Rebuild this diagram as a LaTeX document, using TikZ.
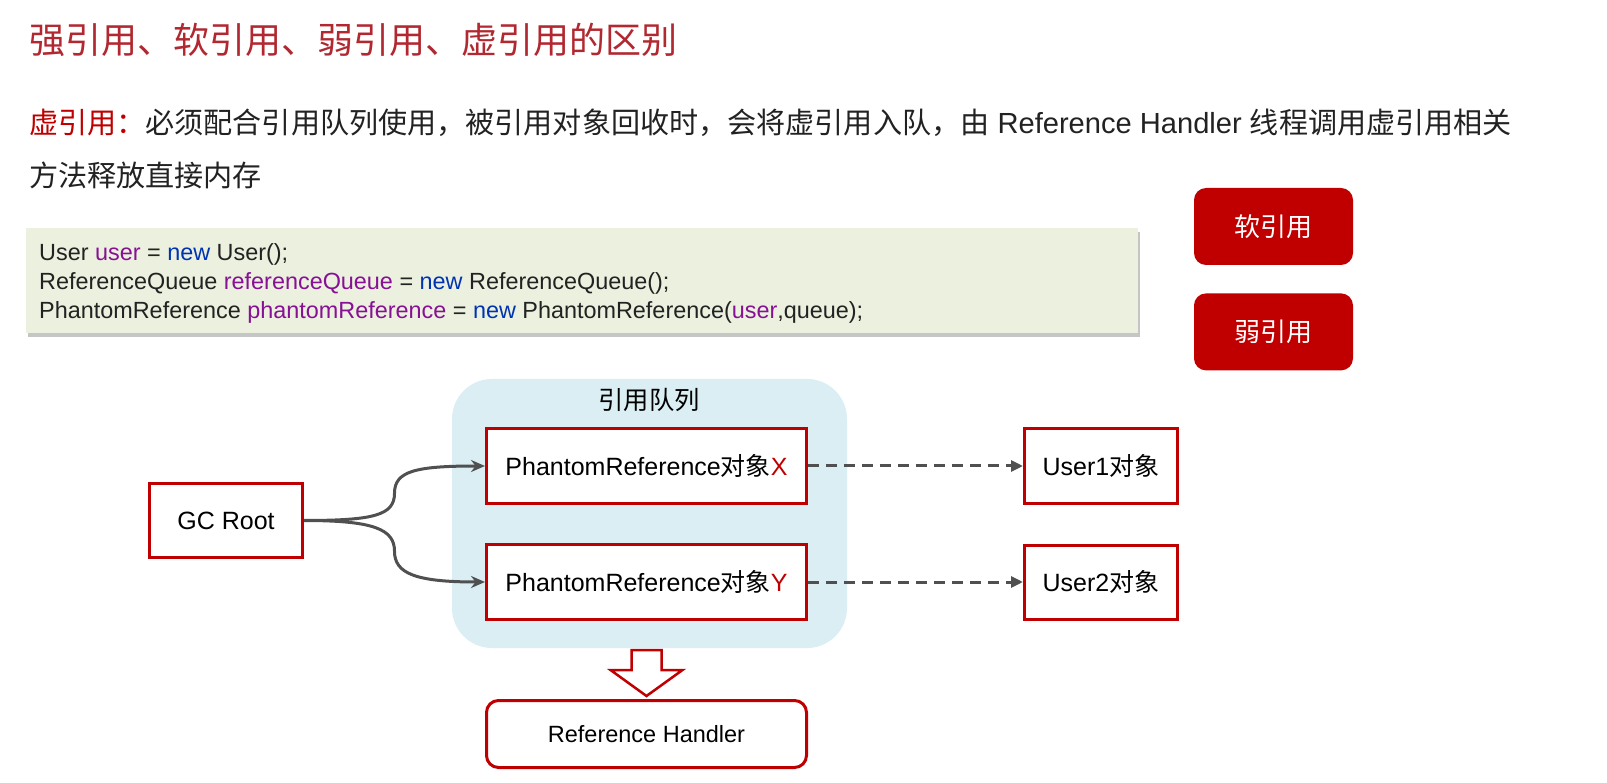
\documentclass[tikz,border=0pt]{standalone}
\usepackage{fontspec}
\setmainfont{Liberation Sans}
\newfontfamily\cjk{Noto Sans CJK SC}
\usepackage{xcolor}
\usetikzlibrary{arrows.meta,positioning,calc,shadows}

\definecolor{pptred}{HTML}{C00000}
\definecolor{titlered}{HTML}{B22830}
\definecolor{queueblue}{HTML}{DAEEF3}
\definecolor{codebg}{HTML}{EBF0DF}
\definecolor{varpurple}{HTML}{871094}
\definecolor{kwblue}{HTML}{0033B3}
\definecolor{linkgray}{HTML}{505050}
\definecolor{textblack}{HTML}{222222}

\newcommand{\codevar}[1]{\textcolor{varpurple}{#1}}
\newcommand{\codekw}[1]{\textcolor{kwblue}{#1}}

\begin{document}
\begin{tikzpicture}[
  x=1pt, y=-1pt,
  box/.style={draw=pptred, line width=3pt, fill=white, minimum width=320pt, minimum height=75pt, inner sep=0pt, font=\fontsize{25}{30}\selectfont},
  smallbox/.style={box, minimum width=153pt, minimum height=74pt},
  btn/.style={fill=pptred, rounded corners=12pt, minimum width=159pt, minimum height=77pt, text=white, font=\fontsize{26}{30}\selectfont\cjk},
  link/.style={draw=linkgray, line width=3pt, -{Stealth[length=14pt,width=12pt]}},
  weak/.style={draw=linkgray, line width=3pt, dash pattern=on 11pt off 7pt, -{Triangle[length=12pt,width=11pt]}}
]
\useasboundingbox (0,0) rectangle (1607,783);
\fill[white] (0,0) rectangle (1607,783);

% heading and description
\node[anchor=west, inner sep=0pt, text=titlered, font=\fontsize{36}{40}\selectfont\cjk] (title) at (29,40) {强引用、软引用、弱引用、虚引用的区别};
\node[anchor=west, inner sep=0pt, text=textblack, font=\fontsize{29.1}{34}\selectfont] (desc) at (29,123)
  {{\cjk\color{pptred}虚引用：}{\cjk 必须配合引用队列使用，被引用对象回收时，会将虚引用入队，由} Reference Handler {\cjk 线程调用虚引用相关}};
\node[anchor=west, inner sep=0pt, text=textblack, font=\fontsize{29.1}{34}\selectfont\cjk] (desc2) at (29,175) {方法释放直接内存};

% code sample
\node[fill=codebg, minimum width=1112pt, minimum height=105pt, inner sep=0pt,
  drop shadow={shadow xshift=2pt, shadow yshift=-4pt, fill=black!45, opacity=.5}] (codebox) at (582,280.5) {};
\node[anchor=west, align=left, inner sep=0pt, text=textblack, font=\fontsize{23.4}{29}\selectfont] (code) at (39,283.5)
  {User \codevar{user} = \codekw{new} User();\\
   ReferenceQueue \codevar{referenceQueue} = \codekw{new} ReferenceQueue();\\
   PhantomReference \codevar{phantomReference} = \codekw{new} PhantomReference(\codevar{user},queue);};

\node[btn] (soft) at (1273.5,226.5) {软引用};
\node[btn, below=28pt of soft] (weakref) {弱引用};

% queue
\node[fill=queueblue, rounded corners=40pt, minimum width=395pt, minimum height=269pt] (queue) at (649.5,513.5) {};
\node[font=\fontsize{25.3}{30}\selectfont\cjk, inner sep=0pt] (queuelabel) at (649,400) {引用队列};
\node[box] (px) at (646.5,466) {PhantomReference{\cjk 对象}\textcolor{pptred}{X}};
\node[box, below=38pt of px] (py) {PhantomReference{\cjk 对象}\textcolor{pptred}{Y}};

\node[smallbox] (gc) at (226,520.5) {GC Root};
\node[smallbox, right=215pt of px] (u1) {User1{\cjk 对象}};
\node[smallbox, right=215pt of py] (u2) {User2{\cjk 对象}};

\node[box, rounded corners=12pt, minimum height=67pt, font=\fontsize{23.5}{28}\selectfont] (handler) at (646.5,734) {Reference Handler};

\foreach \t/\s in {px/1,py/-1} {
  \coordinate (mid) at ($(gc.east)!0.5!(\t.west)$);
  \draw[link] (gc.east) .. controls +(70,0) and +(0,{22*\s}) .. (mid) .. controls +(0,{-22*\s}) and +(-70,0) .. (\t.west);
}
\foreach \a/\b in {px/u1,py/u2} {\draw[weak] (\a.east) -- (\b.west);}

% hollow arrow into handler
\coordinate (tip) at ($(handler.north)+(0,-3)$);
\draw[draw=pptred, line width=2.5pt, fill=white, line join=miter]
  ($(tip)+(-15,-46)$) -- ($(tip)+(15,-46)$) -- ($(tip)+(15,-26)$) -- ($(tip)+(36,-26)$) -- (tip)
  -- ($(tip)+(-36,-26)$) -- ($(tip)+(-15,-26)$) -- cycle;
\end{tikzpicture}
\end{document}
